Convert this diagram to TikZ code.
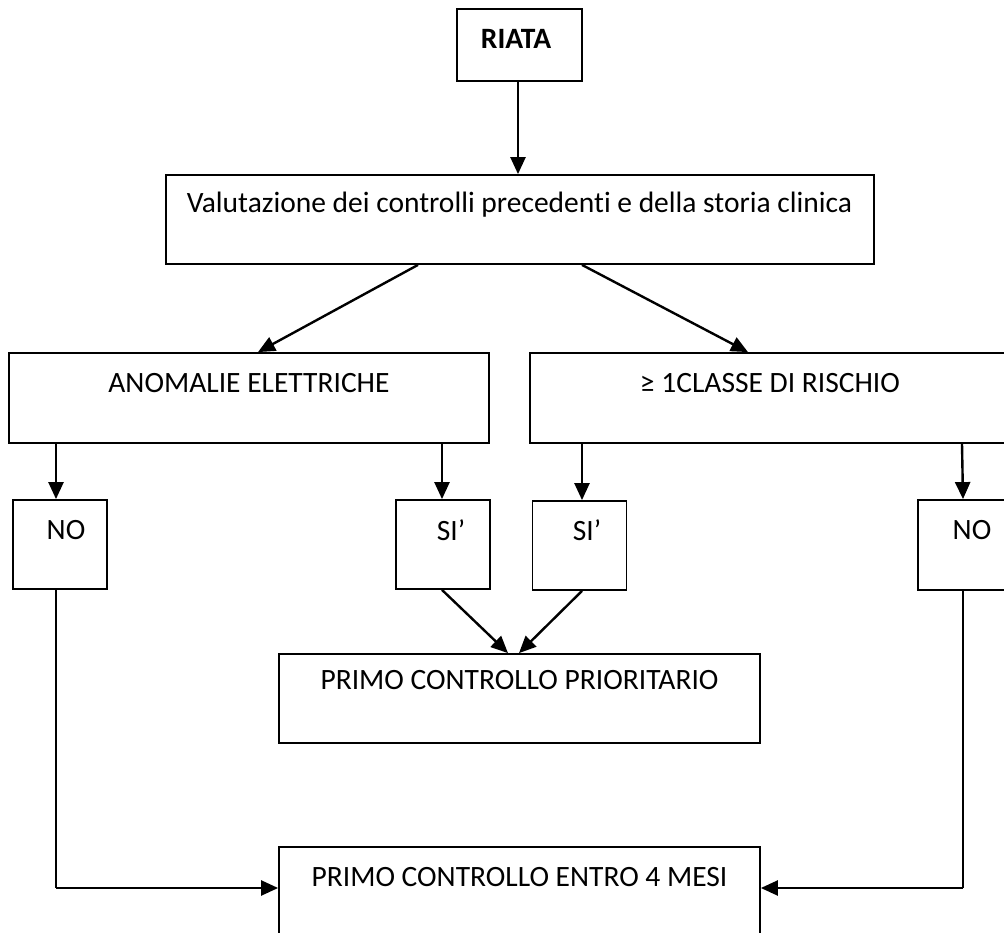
\documentclass[tikz,border=0pt]{standalone}
\usepackage{fontspec}
\setmainfont{Carlito}[Ligatures=NoCommon]
\usetikzlibrary{arrows.meta,calc}
\begin{document}
\begin{tikzpicture}[x=1pt,y=-1pt,
  box/.style={draw,line width=1.8pt,inner sep=0pt,minimum width=#1},
  box/.default=94pt,
  txt/.style={inner sep=0pt,font=\fontsize{29.5}{34}\selectfont},
  arr/.style={line width=2.4pt,-{Triangle[length=17pt,width=15pt]}},
  conn/.style={line width=1.8pt}
]
\clip (0,0) rectangle (1004,933);
\fill[white] (0,0) rectangle (1004,933);
% boxes
\node[box=125pt,minimum height=72pt] (riata) at (519.5,45) {};
\node[box=708pt,minimum height=89pt] (val) at (520,219.5) {};
\node[box=480pt,minimum height=90pt] (anom) at (249,398) {};
\node[box=480pt,minimum height=90pt] (classe) at (770,398) {};
\node[box,minimum height=89pt] (no1) at (60,544.5) {};
\node[box,minimum height=89pt] (si1) at (443,544.5) {};
\node[box,minimum height=89pt] (si2) at (579.5,545.5) {};
\node[box,minimum height=90pt] (no2) at (965,545) {};
\node[box=481pt,minimum height=89pt] (prior) at (519.5,698.5) {};
\node[box=481pt,minimum height=89pt] (entro) at (519.5,891.5) {};
% texts
\node[txt,font=\fontsize{29.5}{34}\selectfont\bfseries] (triata) at (516,39) {RIATA};
\node[txt] (tval) at (519.5,205) {Valutazione dei controlli precedenti e della storia clinica};
\node[txt] (tanom) at (249,383) {ANOMALIE ELETTRICHE};
\node[txt] (tclasse) at (770,383) {≥ 1CLASSE DI RISCHIO};
\node[txt] (tno1) at (66,530) {NO};
\node[txt] (tsi1) at (451,530) {SI’};
\node[txt] (tsi2) at (587,530) {SI’};
\node[txt] (tno2) at (972,530) {NO};
\node[txt] (tprior) at (519.5,680) {PRIMO CONTROLLO PRIORITARIO};
\node[txt] (tentro) at (519.5,877) {PRIMO CONTROLLO ENTRO 4 MESI};
% connectors
\draw[arr] ($(riata.south)+(-1.5,0)$) -- ($(val.north)+(-2,0)$);
\draw[arr] ($(val.south)+(-102,0)$) -- ($(anom.north)+(9,0)$);
\draw[arr] ($(val.south)+(62,0)$) -- ($(classe.north)+(-22,0)$);
\draw[arr] (anom.south -| no1.center) ++(-4,0) coordinate (a1) -- (a1 |- no1.north);
\draw[arr] (anom.south -| si1.center) ++(-1,0) coordinate (a2) -- (a2 |- si1.north);
\draw[arr] (classe.south -| si2.center) ++(2.5,0) coordinate (a3) -- (a3 |- si2.north);
\draw[arr] ($(classe.south -| no2.center)+(-3,0)$) -- ($(no2.north)+(-2,0)$);
\draw[arr] ($(si1.south)+(-1,0)$) -- ($(prior.north)+(-11.5,0)$);
\draw[arr] ($(si2.south)+(2.5,0)$) -- ($(prior.north)+(-0.5,0)$);
\coordinate (bl) at (56,888);
\coordinate (br) at (963,888);
\draw[conn] (no1.south -| bl) -- (bl);
\draw[arr] (bl) -- (bl -| entro.west);
\draw[conn] (no2.south -| br) -- (br);
\draw[arr] (br) -- (br -| entro.east);
\end{tikzpicture}
\end{document}
